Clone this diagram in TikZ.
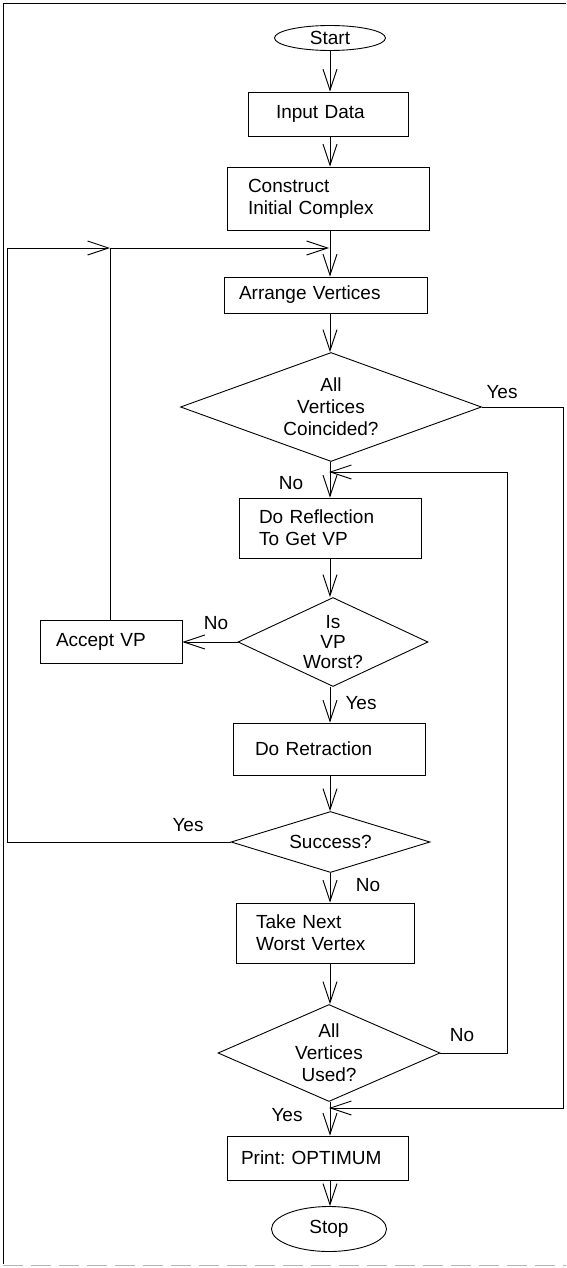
\documentclass[tikz,border=0pt]{standalone}
\usepackage{fontspec}
\setmainfont{Liberation Sans}
\usetikzlibrary{arrows.meta,shapes.geometric}
\frenchspacing
\begin{document}
\begin{tikzpicture}[x=1pt,y=-1pt, line width=0.9pt,
  font=\fontsize{19}{22}\selectfont,
  box/.style={draw, rectangle, align=left, inner ysep=0pt},
  term/.style={draw, ellipse, inner sep=0pt},
  dia/.style={draw, diamond, inner sep=0pt},
  lbl/.style={inner sep=0pt},
  arr/.style={-{Straight Barb[length=21pt,width=14pt]}}]
\useasboundingbox (0,0) rectangle (566,1268);
% frame
\draw (566,3) -- (3,3) -- (3,1264);
\draw[gray!60, dash pattern=on 20pt off 8pt] (3,1265) -- (566,1265);

% nodes
\node[term, minimum width=111pt, minimum height=25pt] (start) at (330,38) {Start};
\node[box, minimum height=44pt, inner xsep=28pt, text width=104pt] (in) at (328,114) {Input Data};
\node[box, minimum height=63pt, inner xsep=21pt, text width=160pt] (con) at (328,198.5) {Construct\\Initial Complex};
\node[box, minimum height=36pt, inner xsep=15pt, text width=173pt] (arr) at (325.5,295) {Arrange Vertices};
\node[dia, minimum width=301pt, minimum height=109pt] (coi) at (331,407) {};
\node[align=center] at (coi.center) {All\\Vertices\\Coincided?};
\node[box, minimum height=60pt, inner xsep=20pt, text width=142pt] (ref) at (330,528) {Do Reflection\\To Get VP};
\node[dia, minimum width=190pt, minimum height=89pt] (vp) at (333,642) {};
\node[align=center, font=\fontsize{19}{20}\selectfont] at (vp.center) {Is\\VP\\Worst?};
\node[box, minimum height=43pt, inner xsep=16pt, text width=110pt] (acc) at (111,641.5) {Accept VP};
\node[box, minimum height=52pt, inner xsep=22pt, text width=148pt] (ret) at (329,749) {Do Retraction};
\node[dia, minimum width=199pt, minimum height=61pt] (suc) at (330.5,842) {};
\node at (suc.center) {Success?};
\node[box, minimum height=60pt, inner xsep=20pt, text width=138pt] (take) at (325,933) {Take Next\\Worst Vertex};
\node[dia, minimum width=222pt, minimum height=97pt] (used) at (329,1053) {};
\node[align=center] at (used.center) {All\\Vertices\\Used?};
\node[box, minimum height=44pt, inner xsep=14pt, text width=153pt] (prt) at (317.5,1158) {Print: OPTIMUM};
\node[term, minimum width=115pt, minimum height=45pt] (stop) at (329,1229) {Stop};

% junction coordinates
\coordinate (j1) at (329,248);
\coordinate (j0) at (110,248);
\coordinate (cL) at (7,248);
\coordinate (j2) at (329,472);
\coordinate (cR1) at (507,472);
\coordinate (j4) at (329,1108);
\coordinate (cR2) at (563,1108);

% connectors
\draw[arr] (start.south) -- (start.south |- in.north);
\draw[arr] (in.south -| start.south) -- (start.south |- con.north);
\draw[arr] (start.south |- con.south) -- (start.south |- arr.north);
\draw[arr] (start.south |- arr.south) -- (coi.north -| start.south);
\draw[arr] (coi.south -| start.south) -- (start.south |- ref.north);
\draw[arr] (start.south |- ref.south) -- (vp.north -| start.south);
\draw[arr] (vp.west) -- (acc.east |- vp.west);
\draw[arr] (acc.north -| j0) -- (j0) -- (j1);
\draw[arr] (suc.west) -| (cL) -- (j0);
\draw[arr] (vp.south -| start.south) -- (start.south |- ret.north);
\draw[arr] (start.south |- ret.south) -- (suc.north -| start.south);
\draw[arr] (suc.south -| start.south) -- (start.south |- take.north);
\draw[arr] (start.south |- take.south) -- (used.north -| start.south);
\draw[arr] (used.south -| start.south) -- (start.south |- prt.north);
\draw[arr] (start.south |- prt.south) -- (stop.north -| start.south);
\draw[arr] (used.east) -| (cR1) -- (j2);
\draw[arr] (coi.east) -| (cR2) -- (j4);

% labels
\node[lbl] at (502,392) {Yes};
\node[lbl] at (291,483) {No};
\node[lbl] at (216,623) {No};
\node[lbl] at (361,703) {Yes};
\node[lbl] at (188,825) {Yes};
\node[lbl] at (368,885) {No};
\node[lbl] at (462,1035) {No};
\node[lbl] at (287,1115) {Yes};
\end{tikzpicture}
\end{document}
